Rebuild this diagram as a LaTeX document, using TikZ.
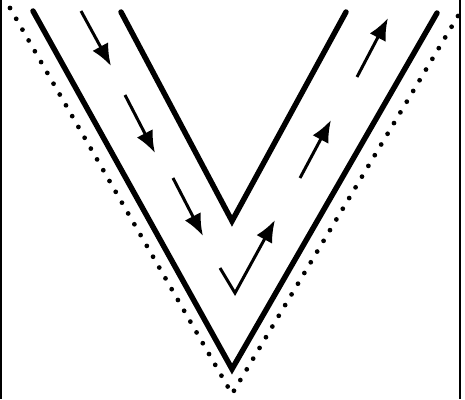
\documentclass[tikz,border=0pt]{standalone}
\usetikzlibrary{arrows.meta}
\tikzstyle{wall} = [line width=3.1pt, line cap=round, line join=miter]
\tikzstyle{edge-dots} = [line width=2.7pt, line cap=round, dash pattern=on 0pt off 7.1pt]
\tikzstyle{flow} = [line width=1.7pt, -{Latex[length=4.4mm, width=3.6mm]}]
\tikzstyle{frame-side} = [line width=1.6pt]

\begin{document}
\begin{tikzpicture}[x=0.02cm, y=-0.02cm]
\useasboundingbox (0,0) rectangle (465,399);
% frame
\draw[frame-side] (1,0) -- (1,399);
\draw[frame-side] (460,0) -- (460,399);
% points of the three V shapes
\coordinate (outer-l) at (33,11);
\coordinate (outer-v) at (232,369);
\coordinate (outer-r) at (437,13);
\coordinate (inner-l) at (121,12);
\coordinate (inner-v) at (232,221);
\coordinate (inner-r) at (346,12);
\coordinate (dots-l) at (10,8);
\coordinate (dots-v) at (232,394);
\coordinate (dots-r) at (458,16);
\draw[wall] (outer-l) -- (outer-v) -- (outer-r);
\draw[wall] (inner-l) -- (inner-v) -- (inner-r);
\draw[edge-dots] (dots-l) -- (dots-v) -- (dots-r);
% downward flow
\coordinate (d1a) at (81,11);   \coordinate (d1b) at (111,66);
\coordinate (d2a) at (125,95);  \coordinate (d2b) at (155,153);
\coordinate (d3a) at (173,178); \coordinate (d3b) at (203,236);
\draw[flow] (d1a) -- (d1b);
\draw[flow] (d2a) -- (d2b);
\draw[flow] (d3a) -- (d3b);
% turn and upward flow
\coordinate (turn-a) at (220,268);
\coordinate (turn-v) at (235,293);
\coordinate (turn-b) at (275,220);
\draw[flow] (turn-a) -- (turn-v) -- (turn-b);
\coordinate (u1a) at (300,178); \coordinate (u1b) at (331,120);
\coordinate (u2a) at (357,77);  \coordinate (u2b) at (388,18);
\draw[flow] (u1a) -- (u1b);
\draw[flow] (u2a) -- (u2b);
\end{tikzpicture}
\end{document}
